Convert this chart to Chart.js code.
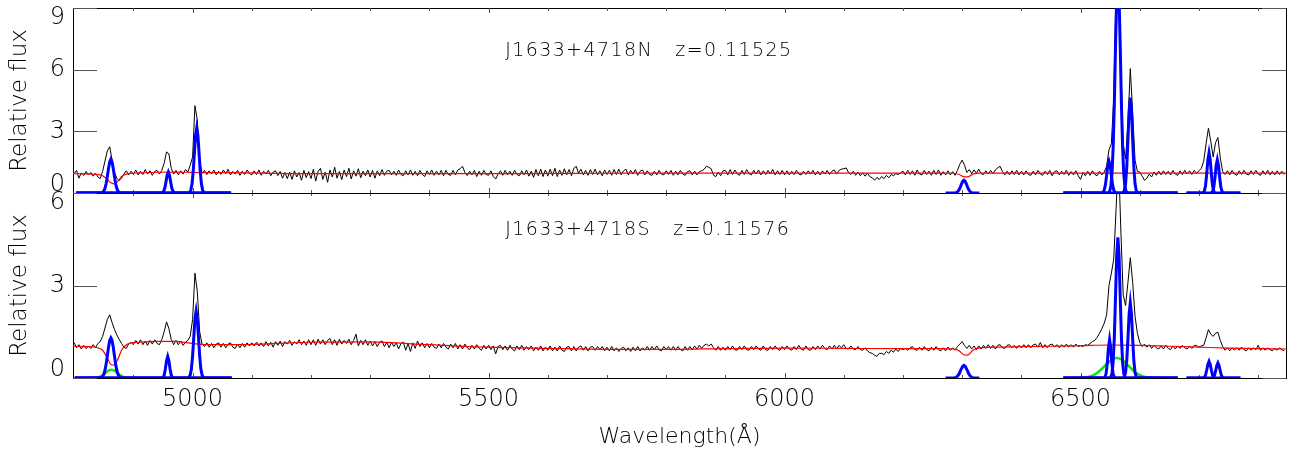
<!DOCTYPE html>
<html>
<head>
<meta charset="utf-8">
<title>J1633+4718 spectra</title>
<script src="https://cdn.jsdelivr.net/npm/chart.js@4.4.1/dist/chart.umd.min.js"></script>
<style>
  html, body { margin: 0; padding: 0; background: #fff; }
  #wrap { position: relative; width: 1292px; height: 455px; }
  #wrap canvas { position: absolute; left: 0; top: 0; }
</style>
</head>
<body>
<div id="wrap">
  <canvas id="panelS" width="1292" height="455"></canvas>
  <canvas id="panelN" width="1292" height="455"></canvas>
</div>
<script>
// rest-frame wavelength range and the spectrum grid (flux sampled every 4 Å from 4800 Å)
const waveMin = 4798, waveMax = 6847;
const waveStart = 4800, waveStep = 4;

const xLabelTicks = [5000, 5500, 6000, 6500];
const xMinorTicks = [4900, 5000, 5100, 5200, 5300, 5400, 5500, 5600, 5700, 5800, 5900,
                     6000, 6100, 6200, 6300, 6400, 6500, 6600, 6700, 6800];
const yTicksN = [0, 3, 6, 9];
const yTicksS = [0, 3, 6];

const labelN = "J1633+4718N   z=0.11525";
const labelS = "J1633+4718S   z=0.11576";

// observed relative flux, north nucleus (one row per 100 Å)
const fluxN = [
  0.95,1.10,0.72,0.98,0.85,1.05,0.88,1.00,0.82,0.96,0.78,0.70,1.05,1.55,2.05,2.25,1.60,1.00,0.72,0.60,0.72,0.92,1.08,0.88,1.06,
  0.90,1.12,0.88,1.06,0.90,1.14,0.92,1.08,0.86,1.05,1.10,0.92,1.10,1.45,2.00,1.90,1.20,0.92,1.10,0.88,1.08,0.92,1.14,1.02,1.35,
  1.75,4.25,3.55,1.60,0.95,1.10,0.90,1.08,0.93,1.12,0.88,1.06,0.90,1.12,0.94,1.15,0.88,1.05,0.92,1.10,0.86,1.06,0.90,1.12,0.95,
  0.88,1.08,0.90,1.12,0.86,1.06,0.92,1.10,0.84,1.02,1.08,0.85,1.05,0.72,1.00,0.70,1.02,0.66,1.08,0.78,1.00,0.62,1.10,0.75,1.04,
  0.70,1.15,0.58,1.05,1.20,0.66,1.02,0.52,1.12,0.78,1.25,0.72,1.05,0.65,1.12,0.80,1.20,0.68,1.08,0.82,1.18,0.74,1.06,0.84,1.12,
  0.78,1.10,0.72,1.08,0.84,1.14,0.86,1.06,1.10,0.88,1.06,0.86,1.12,0.90,0.84,1.08,0.88,1.12,0.86,1.06,0.84,1.10,0.90,0.80,1.08,
  0.90,1.12,0.86,1.06,0.88,1.10,0.84,1.10,0.90,0.86,1.10,0.88,1.12,1.18,1.30,1.00,0.85,1.06,0.88,1.10,0.80,1.06,0.86,1.10,0.90,
  0.86,1.08,0.80,0.68,0.92,1.08,0.86,1.10,0.88,1.06,0.86,1.10,0.90,0.84,1.08,0.88,1.12,0.82,1.06,0.76,1.14,0.84,1.16,0.80,1.12,
  0.82,1.16,0.84,1.20,0.80,1.12,0.86,1.18,0.88,1.14,0.84,1.20,1.30,0.96,1.16,0.88,1.10,0.86,1.14,0.90,1.16,0.88,1.08,0.84,1.12,
  0.90,1.10,0.86,1.14,0.90,1.16,0.88,1.08,1.16,0.88,1.10,0.92,1.14,0.86,1.06,1.12,0.88,1.08,0.90,0.86,1.06,0.88,1.10,0.92,0.88,
  1.08,0.90,1.10,0.86,1.06,0.88,1.10,0.92,0.86,1.04,1.08,0.88,1.06,0.88,1.04,1.08,1.15,1.30,1.25,1.18,0.86,0.80,1.02,0.84,1.08,
  1.10,0.88,1.14,0.90,1.12,0.94,0.86,1.10,0.90,1.14,0.94,0.88,1.10,0.92,1.12,0.88,1.08,0.90,1.10,0.92,1.14,0.88,1.08,0.90,1.10,
  0.88,1.08,0.88,1.06,0.90,1.10,0.92,0.88,1.06,0.90,1.08,0.92,1.10,0.88,1.06,0.88,1.08,0.92,1.10,0.90,1.06,1.12,0.92,1.10,1.16,
  1.18,1.22,1.00,0.90,1.06,0.86,1.02,0.84,0.98,0.82,0.96,0.80,0.74,0.62,0.76,0.66,0.80,0.70,0.86,0.74,0.90,0.84,0.94,0.90,0.98,
  1.06,0.88,1.10,0.90,1.08,0.86,1.12,0.92,0.88,1.10,0.90,1.06,0.86,1.10,0.90,1.12,0.86,1.04,0.88,1.08,0.88,1.04,0.86,1.10,1.40,
  1.60,1.35,1.00,1.14,0.94,1.12,0.96,1.16,0.94,0.90,1.08,0.92,1.10,0.94,1.12,1.22,1.30,1.04,0.88,1.06,0.88,1.08,0.90,1.10,0.88,
  1.06,0.88,1.08,0.90,0.86,1.06,0.88,1.10,0.92,0.86,1.06,0.90,1.10,0.84,1.04,1.08,0.88,1.06,0.90,1.10,0.86,1.04,0.88,1.08,0.84,
  0.66,1.00,0.84,1.06,0.86,1.08,0.90,0.84,1.06,0.88,1.02,1.30,2.10,2.40,4.60,10.2,11.2,6.20,2.40,1.65,3.40,6.05,3.90,1.60,1.05,
  1.02,0.82,0.62,0.72,0.92,0.78,1.02,0.86,1.06,0.88,1.08,0.90,1.06,0.88,1.10,0.92,0.86,1.08,0.90,1.10,0.92,1.08,0.90,1.10,0.94,
  1.08,1.20,1.55,2.40,3.15,2.50,1.75,2.45,2.70,1.70,1.05,0.90,1.08,0.88,1.10,0.92,0.86,1.08,0.90,1.10,0.92,0.88,1.08,0.90,1.10,
  0.92,0.86,1.08,0.90,1.10,0.88,1.06,0.88,1.08,0.90,1.06,0.90
];

// observed relative flux, south nucleus
const fluxS = [
  1.15,0.98,1.08,0.94,1.06,0.95,1.04,0.96,1.08,0.98,1.12,1.18,1.35,1.62,1.90,2.05,1.80,1.58,1.40,1.25,1.12,1.00,0.96,1.10,1.16,
  1.08,1.22,1.10,1.24,1.08,1.20,1.06,1.22,1.10,1.24,1.12,1.08,1.25,1.50,1.82,1.60,1.25,1.08,1.22,1.08,1.20,1.06,1.16,1.22,1.35,
  1.90,3.40,2.80,1.50,1.10,1.02,1.14,1.00,1.12,0.98,1.10,1.14,1.00,1.12,0.98,1.10,1.14,1.00,0.96,1.10,0.98,1.12,1.00,1.14,1.04,
  1.14,1.04,1.16,1.04,1.14,1.02,1.18,1.04,1.16,1.00,1.18,1.06,1.20,1.02,1.18,1.10,1.22,1.06,1.18,1.10,1.24,1.08,1.20,1.06,1.24,
  1.08,1.24,1.06,1.26,1.10,1.24,1.08,1.22,1.28,1.08,1.24,1.06,1.26,1.10,1.22,1.12,1.26,1.08,1.22,1.42,1.04,1.22,1.08,1.24,1.06,
  1.20,1.04,1.18,1.02,1.16,1.20,1.02,1.16,0.98,1.16,1.02,1.14,0.94,1.12,1.16,0.90,1.12,0.86,1.14,0.96,1.20,1.02,1.14,0.98,1.12,
  0.98,1.12,1.00,0.96,1.10,0.98,1.12,1.00,0.94,1.10,0.98,1.12,0.94,1.08,0.94,1.10,0.98,0.92,1.06,0.94,1.08,0.96,0.90,1.06,0.94,
  1.06,0.92,1.04,0.78,1.02,1.06,0.92,1.04,0.90,1.06,0.94,0.88,1.04,0.92,1.06,0.90,1.02,0.92,1.04,0.88,1.00,0.90,1.04,0.88,1.00,
  0.90,1.04,0.88,1.00,0.88,1.04,0.90,0.86,1.00,1.02,0.88,1.02,0.88,1.00,1.04,0.90,1.02,0.88,1.00,1.02,0.90,1.02,0.92,1.02,0.88,
  1.00,0.88,1.02,0.88,0.98,0.86,0.96,1.00,0.88,0.98,0.86,1.00,0.88,1.02,0.88,0.98,0.90,1.02,0.90,1.02,0.92,1.04,0.92,0.88,1.02,
  0.92,1.02,0.90,1.02,0.90,1.02,0.92,0.88,1.02,0.90,1.02,0.92,1.04,0.94,1.06,0.96,1.06,1.10,1.04,1.10,0.98,0.90,1.02,0.90,1.00,
  0.90,1.02,0.92,1.04,0.92,0.90,1.02,0.92,1.04,0.92,0.90,1.02,0.92,1.04,0.94,0.90,1.04,0.92,0.90,1.02,0.92,1.04,0.94,0.90,1.02,
  0.92,1.04,0.94,0.90,1.02,0.92,1.06,0.94,0.90,1.04,0.92,0.90,1.02,0.92,1.04,0.94,1.06,0.96,0.92,1.04,0.94,1.06,0.94,1.06,0.98,
  1.08,0.96,0.94,1.04,0.94,0.92,1.02,0.92,0.90,0.98,0.88,0.82,0.80,0.74,0.70,0.80,0.80,0.76,0.86,0.80,0.90,0.84,0.94,0.86,0.96,
  0.92,0.96,0.90,0.98,1.02,0.92,0.90,1.00,0.90,1.02,0.92,0.88,1.00,0.90,1.02,0.92,0.88,0.98,0.88,1.00,0.90,0.98,0.90,1.02,1.10,
  1.18,1.05,0.96,1.06,0.94,1.04,0.92,1.04,0.94,1.06,0.96,1.08,0.96,1.06,0.94,1.06,1.08,0.98,0.96,1.06,1.08,0.98,1.06,0.96,1.06,
  0.98,1.08,0.98,1.08,0.98,1.08,1.10,1.00,1.15,0.98,1.08,0.98,1.08,1.10,1.00,1.08,0.98,1.08,1.00,1.10,1.00,1.08,1.00,1.10,1.02,
  1.05,1.02,1.08,1.06,1.12,1.18,1.22,1.32,1.45,1.60,1.78,2.05,3.00,3.40,3.85,5.50,7.20,4.80,2.70,2.35,3.10,3.90,3.10,2.00,1.45,
  1.15,1.02,1.10,1.00,1.08,0.96,1.06,0.98,0.94,1.04,0.94,1.06,0.96,0.92,1.04,0.94,1.04,0.96,1.06,0.98,0.94,1.04,0.96,1.06,1.05,
  1.00,1.04,1.06,1.30,1.57,1.42,1.35,1.45,1.48,1.22,1.02,0.90,0.98,0.88,0.98,0.90,0.98,0.90,1.00,0.92,0.88,0.98,0.90,0.98,0.92,
  1.06,0.90,0.98,0.90,0.98,0.92,0.88,0.96,0.90,0.98,0.92,0.88
];

// stellar continuum model (red)
const modelWave = [4798,4820,4840,4848,4856,4862,4868,4874,4880,4890,4910,4940,4970,5000,5020,5060,5120,5200,5300,5400,
                   5500,5600,5700,5800,5900,6000,6100,6200,6260,6285,6295,6302,6309,6318,6330,6360,6400,6450,6500,6550,
                   6600,6650,6700,6750,6800,6847];
const modelN = [0.94,0.93,0.90,0.84,0.66,0.50,0.44,0.58,0.80,0.93,0.98,1.01,1.02,1.00,0.99,0.99,0.97,0.94,0.94,0.94,
                0.94,0.95,0.96,0.97,0.97,0.97,0.97,0.97,0.97,0.96,0.90,0.80,0.78,0.92,0.97,0.97,0.97,0.97,0.97,0.97,
                0.97,0.97,0.97,0.97,0.97,0.97];
const modelS = [1.03,1.02,0.98,0.90,0.65,0.44,0.42,0.62,0.90,1.10,1.16,1.19,1.19,1.12,1.08,1.08,1.10,1.16,1.17,1.08,
                1.00,0.96,0.93,0.93,0.95,0.97,0.96,0.95,0.95,0.94,0.88,0.76,0.74,0.90,0.98,1.00,1.02,1.03,1.05,1.07,
                1.06,1.03,1.00,0.97,0.95,0.94];

// narrow emission-line components [wavelength, flux], each over its fitting window
const hbN = [[4803,0],[4844,0],[4846,0.01],[4848,0.03],[4850,0.09],[4852,0.22],[4854,0.46],[4856,0.80],[4858,1.19],[4860,1.51],
             [4862,1.64],[4864,1.51],[4866,1.19],[4868,0.80],[4870,0.46],[4872,0.22],[4874,0.09],[4876,0.03],[4878,0.01],[4880,0],[5065,0]];
const o3aN = [[4803,0],[4947,0],[4949,0.02],[4951,0.08],[4953,0.23],[4955,0.53],[4957,0.87],[4959,1.02],[4961,0.87],[4963,0.53],
              [4965,0.23],[4967,0.08],[4969,0.02],[4971,0],[5065,0]];
const o3bN = [[4803,0],[4993,0],[4995,0.03],[4997,0.14],[4999,0.43],[5001,1.03],[5003,1.92],[5005,2.79],[5007,3.16],[5009,2.79],
              [5011,1.92],[5013,1.03],[5015,0.43],[5017,0.14],[5019,0.03],[5021,0],[5065,0]];
const o1N = [[6272,0],[6287,0],[6289,0.01],[6291,0.03],[6293,0.08],[6295,0.17],[6297,0.30],[6299,0.45],[6301,0.57],[6303,0.62],
             [6305,0.57],[6307,0.45],[6309,0.30],[6311,0.17],[6313,0.08],[6315,0.03],[6317,0.01],[6319,0],[6329,0]];
const haN = [[6471,0],[6547,0],[6549,0.08],[6551,0.3],[6553,0.9],[6555,2.2],[6557,4.3],[6559,7.1],[6561,9.5],[6563,10.5],
             [6565,9.5],[6567,7.1],[6569,4.3],[6571,2.2],[6573,0.9],[6575,0.3],[6577,0.08],[6579,0],[6664,0]];
const n2aN = [[6471,0],[6536,0],[6538,0.04],[6540,0.15],[6542,0.41],[6544,0.86],[6546,1.34],[6548,1.55],[6550,1.34],[6552,0.86],
              [6554,0.41],[6556,0.15],[6558,0.04],[6560,0],[6664,0]];
const n2bN = [[6471,0],[6570,0],[6572,0.03],[6574,0.12],[6576,0.45],[6578,1.24],[6580,2.59],[6582,4.01],[6584,4.64],[6586,4.01],
              [6588,2.59],[6590,1.24],[6592,0.45],[6594,0.12],[6596,0.03],[6598,0],[6664,0]];
const s2aN = [[6679,0],[6705,0],[6707,0.01],[6709,0.09],[6711,0.34],[6713,0.90],[6715,1.61],[6717,1.96],[6719,1.61],[6721,0.90],
              [6723,0.34],[6725,0.09],[6727,0.01],[6729,0],[6770,0]];
const s2bN = [[6679,0],[6719,0],[6721,0.01],[6723,0.07],[6725,0.28],[6727,0.74],[6729,1.33],[6731,1.62],[6733,1.33],[6735,0.74],
              [6737,0.28],[6739,0.07],[6741,0.01],[6743,0],[6770,0]];

const hbS = [[4801,0],[4844,0],[4846,0.02],[4848,0.05],[4850,0.12],[4852,0.25],[4854,0.45],[4856,0.72],[4858,1.00],[4860,1.22],
             [4862,1.30],[4864,1.22],[4866,1.00],[4868,0.72],[4870,0.45],[4872,0.25],[4874,0.12],[4876,0.05],[4878,0.02],[4880,0],[5066,0]];
const o3aS = [[4801,0],[4948,0],[4950,0.02],[4952,0.09],[4954,0.29],[4956,0.56],[4958,0.70],[4960,0.56],[4962,0.29],[4964,0.09],
              [4966,0.02],[4968,0],[5066,0]];
const o3bS = [[4801,0],[4992,0],[4994,0.02],[4996,0.10],[4998,0.29],[5000,0.71],[5002,1.32],[5004,1.91],[5006,2.17],[5008,1.91],
              [5010,1.32],[5012,0.71],[5014,0.29],[5016,0.10],[5018,0.02],[5020,0],[5066,0]];
const o1S = [[6272,0],[6287,0],[6289,0.02],[6291,0.04],[6293,0.08],[6295,0.14],[6297,0.23],[6299,0.31],[6301,0.38],[6303,0.41],
             [6305,0.38],[6307,0.31],[6309,0.23],[6311,0.14],[6313,0.08],[6315,0.04],[6317,0.02],[6319,0],[6329,0]];
const haS = [[6471,0],[6549,0],[6551,0.03],[6553,0.14],[6555,0.50],[6557,1.31],[6559,2.62],[6561,3.97],[6563,4.56],[6565,3.97],
             [6567,2.62],[6569,1.31],[6571,0.50],[6573,0.14],[6575,0.03],[6577,0],[6664,0]];
const n2aS = [[6471,0],[6539,0],[6541,0.02],[6543,0.13],[6545,0.45],[6547,0.97],[6549,1.25],[6551,0.97],[6553,0.45],[6555,0.13],
              [6557,0.02],[6559,0],[6664,0]];
const n2bS = [[6471,0],[6572,0],[6574,0.04],[6576,0.18],[6578,0.56],[6580,1.27],[6582,2.07],[6584,2.44],[6586,2.07],[6588,1.27],
              [6590,0.56],[6592,0.18],[6594,0.04],[6596,0],[6664,0]];
const s2aS = [[6679,0],[6707,0],[6709,0.02],[6711,0.09],[6713,0.25],[6715,0.44],[6717,0.54],[6719,0.44],[6721,0.25],[6723,0.09],
              [6725,0.02],[6727,0],[6770,0]];
const s2bS = [[6679,0],[6722,0],[6724,0.02],[6726,0.08],[6728,0.22],[6730,0.40],[6732,0.49],[6734,0.40],[6736,0.22],[6738,0.08],
              [6740,0.02],[6742,0],[6770,0]];

// broad Balmer components (green), south nucleus only
const hbBroadS = [[4827,0],[4835,0.005],[4839,0.015],[4843,0.037],[4847,0.075],[4851,0.13],[4855,0.20],[4859,0.25],[4863,0.27],
                  [4867,0.25],[4871,0.20],[4875,0.13],[4879,0.075],[4883,0.037],[4887,0.015],[4891,0.005],[4899,0]];
const haBroadS = [[6489,0],[6497,0.004],[6505,0.013],[6513,0.036],[6521,0.087],[6529,0.18],[6537,0.32],[6545,0.47],[6553,0.60],
                  [6561,0.65],[6569,0.60],[6577,0.47],[6585,0.32],[6593,0.18],[6601,0.087],[6609,0.036],[6617,0.013],[6625,0.004],[6633,0]];

const FONT = "'DejaVu Sans', 'Liberation Sans', sans-serif";
const WEIGHT = 200;

function spectrum(flux) {
    return flux.map((y, i) => ({ x: waveStart + i * waveStep, y: y }));
}

function pairs(list) {
    return list.map(([x, y]) => ({ x: x, y: y }));
}

function curve(data, color, width, order, smooth) {
    return {
        data: data,
        borderColor: color,
        borderWidth: width,
        pointRadius: 0,
        fill: false,
        tension: 0,
        cubicInterpolationMode: smooth ? "monotone" : "default",
        order: order
    };
}

// box, inward ticks and labels in the IDL style
const frame = {
    id: "frame",
    beforeDatasetsDraw(chart, args, opts) {
        const { ctx, chartArea: a } = chart;
        const x = chart.scales.x, y = chart.scales.y;
        ctx.save();
        ctx.lineWidth = 1;
        ctx.strokeStyle = "#000";
        ctx.strokeRect(a.left + 0.5, a.top + 0.5, a.right - a.left, a.bottom - a.top);

        ctx.strokeStyle = "#555";
        ctx.beginPath();
        xMinorTicks.forEach(v => {
            const px = Math.round(x.getPixelForValue(v)) + 0.5;
            const len = xLabelTicks.includes(v) ? 5 : 3;
            ctx.moveTo(px, a.top); ctx.lineTo(px, a.top + len);
            ctx.moveTo(px, a.bottom); ctx.lineTo(px, a.bottom - len);
        });
        opts.yTicks.forEach(v => {
            const py = Math.round(y.getPixelForValue(v)) + 0.5;
            ctx.moveTo(a.left, py); ctx.lineTo(a.left + 24, py);
            ctx.moveTo(a.right, py); ctx.lineTo(a.right - 24, py);
        });
        ctx.stroke();

        // y tick labels are kept inside the panel height
        ctx.fillStyle = "#000";
        ctx.font = WEIGHT + " 24px " + FONT;
        ctx.textAlign = "right";
        ctx.textBaseline = "middle";
        opts.yTicks.forEach(v => {
            const py = Math.min(Math.max(y.getPixelForValue(v), a.top + 10), a.bottom - 8);
            ctx.fillText(String(v), a.left - 8, py);
        });

        ctx.font = WEIGHT + " 19px " + FONT;
        ctx.textAlign = "left";
        ctx.textBaseline = "alphabetic";
        if ("letterSpacing" in ctx) ctx.letterSpacing = "1.4px";
        ctx.fillText(opts.label, x.getPixelForValue(opts.labelAt[0]), y.getPixelForValue(opts.labelAt[1]));
        ctx.restore();
    }
};

function makePanel(id, cfg) {
    return new Chart(document.getElementById(id), {
        type: "line",
        data: { datasets: cfg.datasets },
        options: {
            responsive: false,
            animation: false,
            events: [],
            layout: { padding: cfg.padding },
            plugins: {
                legend: { display: false },
                tooltip: { enabled: false },
                frame: { yTicks: cfg.yTicks, label: cfg.label, labelAt: cfg.labelAt }
            },
            scales: {
                x: {
                    type: "linear",
                    min: waveMin,
                    max: waveMax,
                    display: cfg.showX,
                    grid: { display: false, drawTicks: false },
                    border: { display: false },
                    afterBuildTicks: s => { s.ticks = xLabelTicks.map(v => ({ value: v })); },
                    afterFit: s => { if (cfg.showX) s.height = 77; },
                    ticks: {
                        autoSkip: false,
                        maxRotation: 0,
                        padding: 7,
                        color: "#000",
                        font: { family: FONT, size: 24, weight: WEIGHT },
                        callback: v => String(v)
                    },
                    title: {
                        display: true,
                        text: "Wavelength(Å)",
                        color: "#000",
                        font: { family: FONT, size: 22, weight: WEIGHT },
                        padding: { top: 0, bottom: 5 }
                    }
                },
                y: {
                    min: 0,
                    max: cfg.yMax,
                    grid: { display: false, drawTicks: false },
                    border: { display: false },
                    ticks: { display: false },
                    afterFit: s => { s.width = 73; },
                    title: {
                        display: true,
                        text: "Relative flux",
                        color: "#000",
                        font: { family: FONT, size: 23, weight: WEIGHT },
                        padding: { top: 6, bottom: 0 }
                    }
                }
            }
        },
        plugins: [frame]
    });
}

const BLUE = "#0000ff", RED = "#ff0000", GREEN = "#00ee00", BLACK = "#000000";

makePanel("panelN", {
    padding: { left: 0, top: 8, right: 6, bottom: 262 },
    showX: false,
    yMax: 9,
    yTicks: yTicksN,
    label: labelN,
    labelAt: [5528, 6.65],
    datasets: [
        curve(pairs(hbN), BLUE, 3, 0), curve(pairs(o3aN), BLUE, 3, 0), curve(pairs(o3bN), BLUE, 3, 0),
        curve(pairs(o1N), BLUE, 3, 0), curve(pairs(haN), BLUE, 3, 0), curve(pairs(n2aN), BLUE, 3, 0),
        curve(pairs(n2bN), BLUE, 3, 0), curve(pairs(s2aN), BLUE, 3, 0), curve(pairs(s2bN), BLUE, 3, 0),
        curve(modelWave.map((w, i) => ({ x: w, y: modelN[i] })), RED, 1.2, 2, true),
        curve(spectrum(fluxN), BLACK, 1, 3)
    ]
});

makePanel("panelS", {
    padding: { left: 0, top: 193, right: 6, bottom: 0 },
    showX: true,
    yMax: 6,
    yTicks: yTicksS,
    label: labelS,
    labelAt: [5528, 4.64],
    datasets: [
        curve(pairs(hbS), BLUE, 3, 0), curve(pairs(o3aS), BLUE, 3, 0), curve(pairs(o3bS), BLUE, 3, 0),
        curve(pairs(o1S), BLUE, 3, 0), curve(pairs(haS), BLUE, 3, 0), curve(pairs(n2aS), BLUE, 3, 0),
        curve(pairs(n2bS), BLUE, 3, 0), curve(pairs(s2aS), BLUE, 3, 0), curve(pairs(s2bS), BLUE, 3, 0),
        curve(pairs(hbBroadS), GREEN, 2.5, 1, true), curve(pairs(haBroadS), GREEN, 2.5, 1, true),
        curve(modelWave.map((w, i) => ({ x: w, y: modelS[i] })), RED, 1.2, 2, true),
        curve(spectrum(fluxS), BLACK, 1, 3)
    ]
});
</script>
</body>
</html>
